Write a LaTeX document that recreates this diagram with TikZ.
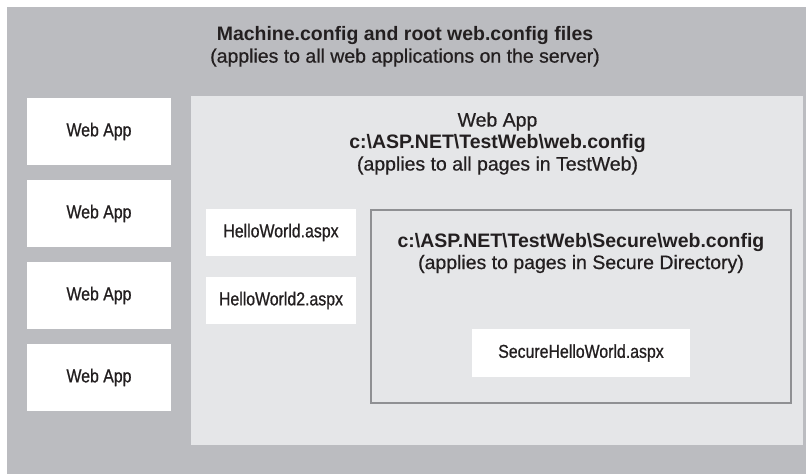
\documentclass[tikz,border=0pt]{standalone}
\usepackage{fontspec}
\setmainfont{Liberation Sans}[UprightFeatures={FakeBold=0.6}]
\newfontfamily\condfont[FakeStretch=0.85, FakeBold=0.8]{Liberation Sans}
\usetikzlibrary{positioning}
\definecolor{servergray}{RGB}{187,188,192}
\definecolor{appgray}{RGB}{229,230,232}
\definecolor{framegray}{RGB}{143,144,147}
\definecolor{inkdark}{RGB}{35,31,32}

\begin{document}
\begin{tikzpicture}[x=0.75pt, y=-0.75pt, text=inkdark,
    every node/.style={inner sep=0pt, outer sep=0pt},
    titletext/.style={align=center, font=\fontsize{14.6}{16.5}\selectfont},
    filebox/.style={fill=white, font=\condfont\fontsize{14}{16}\selectfont},
    appbox/.style={filebox, minimum width=108pt, minimum height=50.25pt},
    pagebox/.style={filebox, minimum width=112.5pt, minimum height=35.25pt}]
    \useasboundingbox (0,0) rectangle (806,474);
    % server level
    \fill[servergray] (7,7) rectangle (806,474);
    \node[titletext] (rootcfg) at (405,46.6)
        {\textbf{Machine.config and root web.config files}\\(applies to all web applications on the server)};
    % other web applications
    \node[appbox] (app1) at (99,131.5) {Web App};
    \node[appbox, below=11.25pt of app1] (app2) {Web App};
    \node[appbox, below=11.25pt of app2] (app3) {Web App};
    \node[appbox, below=11.25pt of app3] (app4) {Web App};
    % TestWeb application
    \fill[appgray] (191,96) rectangle (803,445);
    \node[titletext] (webcfg) at (497.5,143.5)
        {Web App\\\textbf{c:\textbackslash ASP.NET\textbackslash TestWeb\textbackslash web.config}\\(applies to all pages in TestWeb)};
    \node[pagebox] (hello1) at (281,232.5) {HelloWorld.aspx};
    \node[pagebox, below=15.75pt of hello1] (hello2) {HelloWorld2.aspx};
    % Secure directory
    \draw[framegray, fill=appgray, line width=1.5pt] (371,210) rectangle (791,403);
    \node[titletext] (securecfg) at (581,253)
        {\textbf{c:\textbackslash ASP.NET\textbackslash TestWeb\textbackslash Secure\textbackslash web.config}\\(applies to pages in Secure Directory)};
    \node[filebox, minimum width=163.5pt, minimum height=36pt] (securehello) at (581,353) {SecureHelloWorld.aspx};
\end{tikzpicture}
\end{document}
